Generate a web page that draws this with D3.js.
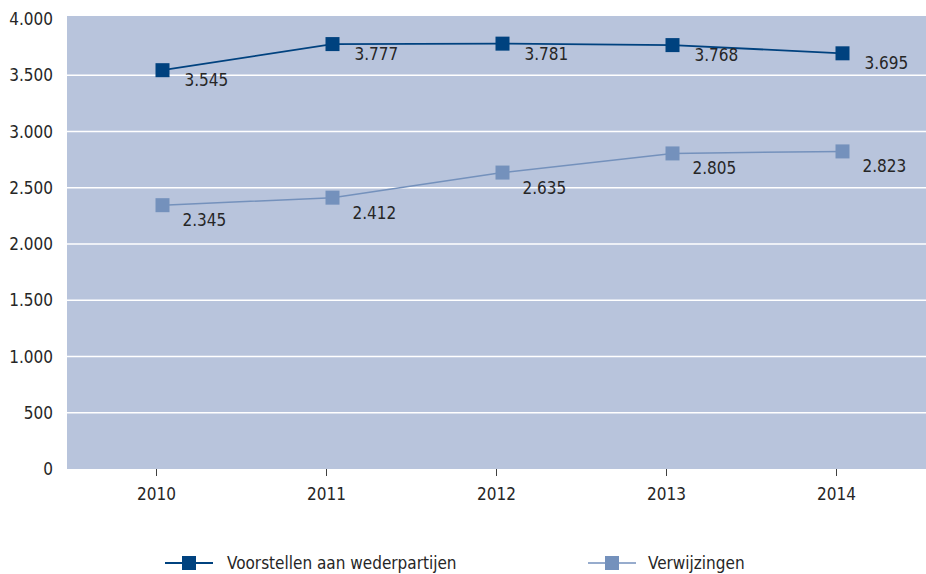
<!DOCTYPE html>
<html><head><meta charset="utf-8">
<script src="https://cdn.jsdelivr.net/npm/d3@7"></script>
<style>body{margin:0;background:#fff}svg{display:block}text{font-family:"DejaVu Sans Condensed","DejaVu Sans",sans-serif;fill:#262626}</style>
</head><body><svg id="c" width="926" height="574"></svg>
<script>
const years = ["2010","2011","2012","2013","2014"];
const voorstellen = [3545, 3777, 3781, 3768, 3695];
const verwijzingen = [2345, 2412, 2635, 2805, 2823];
const seriesNames = ["Voorstellen aan wederpartijen", "Verwijzingen"];
const yTicks = [0, 500, 1000, 1500, 2000, 2500, 3000, 3500, 4000];

(function () {
const svg = d3.select("#c");
const pL = 67, pR = 926, pT = 16, pB = 469;
const x = d3.scalePoint().domain(years).range([156, 836]);
const y = d3.scaleLinear().domain([0, 4000]).range([pB, 19]);
const fmt = v => d3.format(",")(v).replace(/,/g, ".");

svg.append("rect").attr("x", pL).attr("y", pT).attr("width", pR - pL).attr("height", pB - pT).attr("fill", "#b8c4dc");

// gridlines
svg.append("g").selectAll("line").data(yTicks.filter(d => d > 0 && d < 4000)).join("line")
  .attr("x1", pL).attr("x2", pR).attr("y1", d => y(d)).attr("y2", d => y(d))
  .attr("stroke", "#ffffff").attr("stroke-width", 1.5);

// y labels
svg.append("g").selectAll("text").data(yTicks).join("text")
  .attr("x", 53).attr("y", d => y(d)).attr("dy", "0.36em").attr("text-anchor", "end")
  .attr("font-size", 17).text(d => fmt(d));

// x axis ticks & labels
const xa = svg.append("g").attr("transform", `translate(0,${pB})`)
  .call(d3.axisBottom(x).tickSize(7).tickPadding(12));
xa.select(".domain").remove();
xa.selectAll(".tick line").attr("stroke", "#404040");
xa.selectAll(".tick text").attr("font-size", 17).attr("font-family", '"DejaVu Sans Condensed","DejaVu Sans",sans-serif').attr("fill", "#262626");

const markerOffset = 6.5;
const series = [
  {name: seriesNames[0], vals: voorstellen, color: "#00427f", lw: 1.8, dx: 22, dy: 16},
  {name: seriesNames[1], vals: verwijzingen, color: "#7491bc", lw: 1.5, dx: 20, dy: 21}
];
const ms = 14;
series.forEach(s => {
  const pts = years.map((yr, i) => [x(yr) + markerOffset, y(s.vals[i]), s.vals[i]]);
  svg.append("path").datum(pts).attr("d", d3.line()).attr("fill", "none")
    .attr("stroke", s.color).attr("stroke-width", s.lw);
  svg.append("g").selectAll("rect").data(pts).join("rect")
    .attr("x", d => d[0] - ms / 2).attr("y", d => d[1] - ms / 2)
    .attr("width", ms).attr("height", ms).attr("fill", s.color);
  svg.append("g").selectAll("text").data(pts).join("text")
    .attr("x", d => d[0] + s.dx).attr("y", d => d[1] + s.dy)
    .attr("font-size", 17).text(d => fmt(d[2]));
});

// legend
const legendPos = [[165, 227], [588, 648]];
series.forEach((s, i) => {
  const [lx, tx] = legendPos[i];
  const g = svg.append("g");
  g.append("line").attr("x1", lx).attr("x2", lx + 48).attr("y1", 563).attr("y2", 563)
    .attr("stroke", s.color).attr("stroke-width", s.lw);
  g.append("rect").attr("x", lx + 24 - 7).attr("y", 563 - 7).attr("width", 14).attr("height", 14).attr("fill", s.color);
  g.append("text").attr("x", tx).attr("y", 563).attr("dy", "0.36em").attr("font-size", 17).text(s.name);
});
})();
</script></body></html>
